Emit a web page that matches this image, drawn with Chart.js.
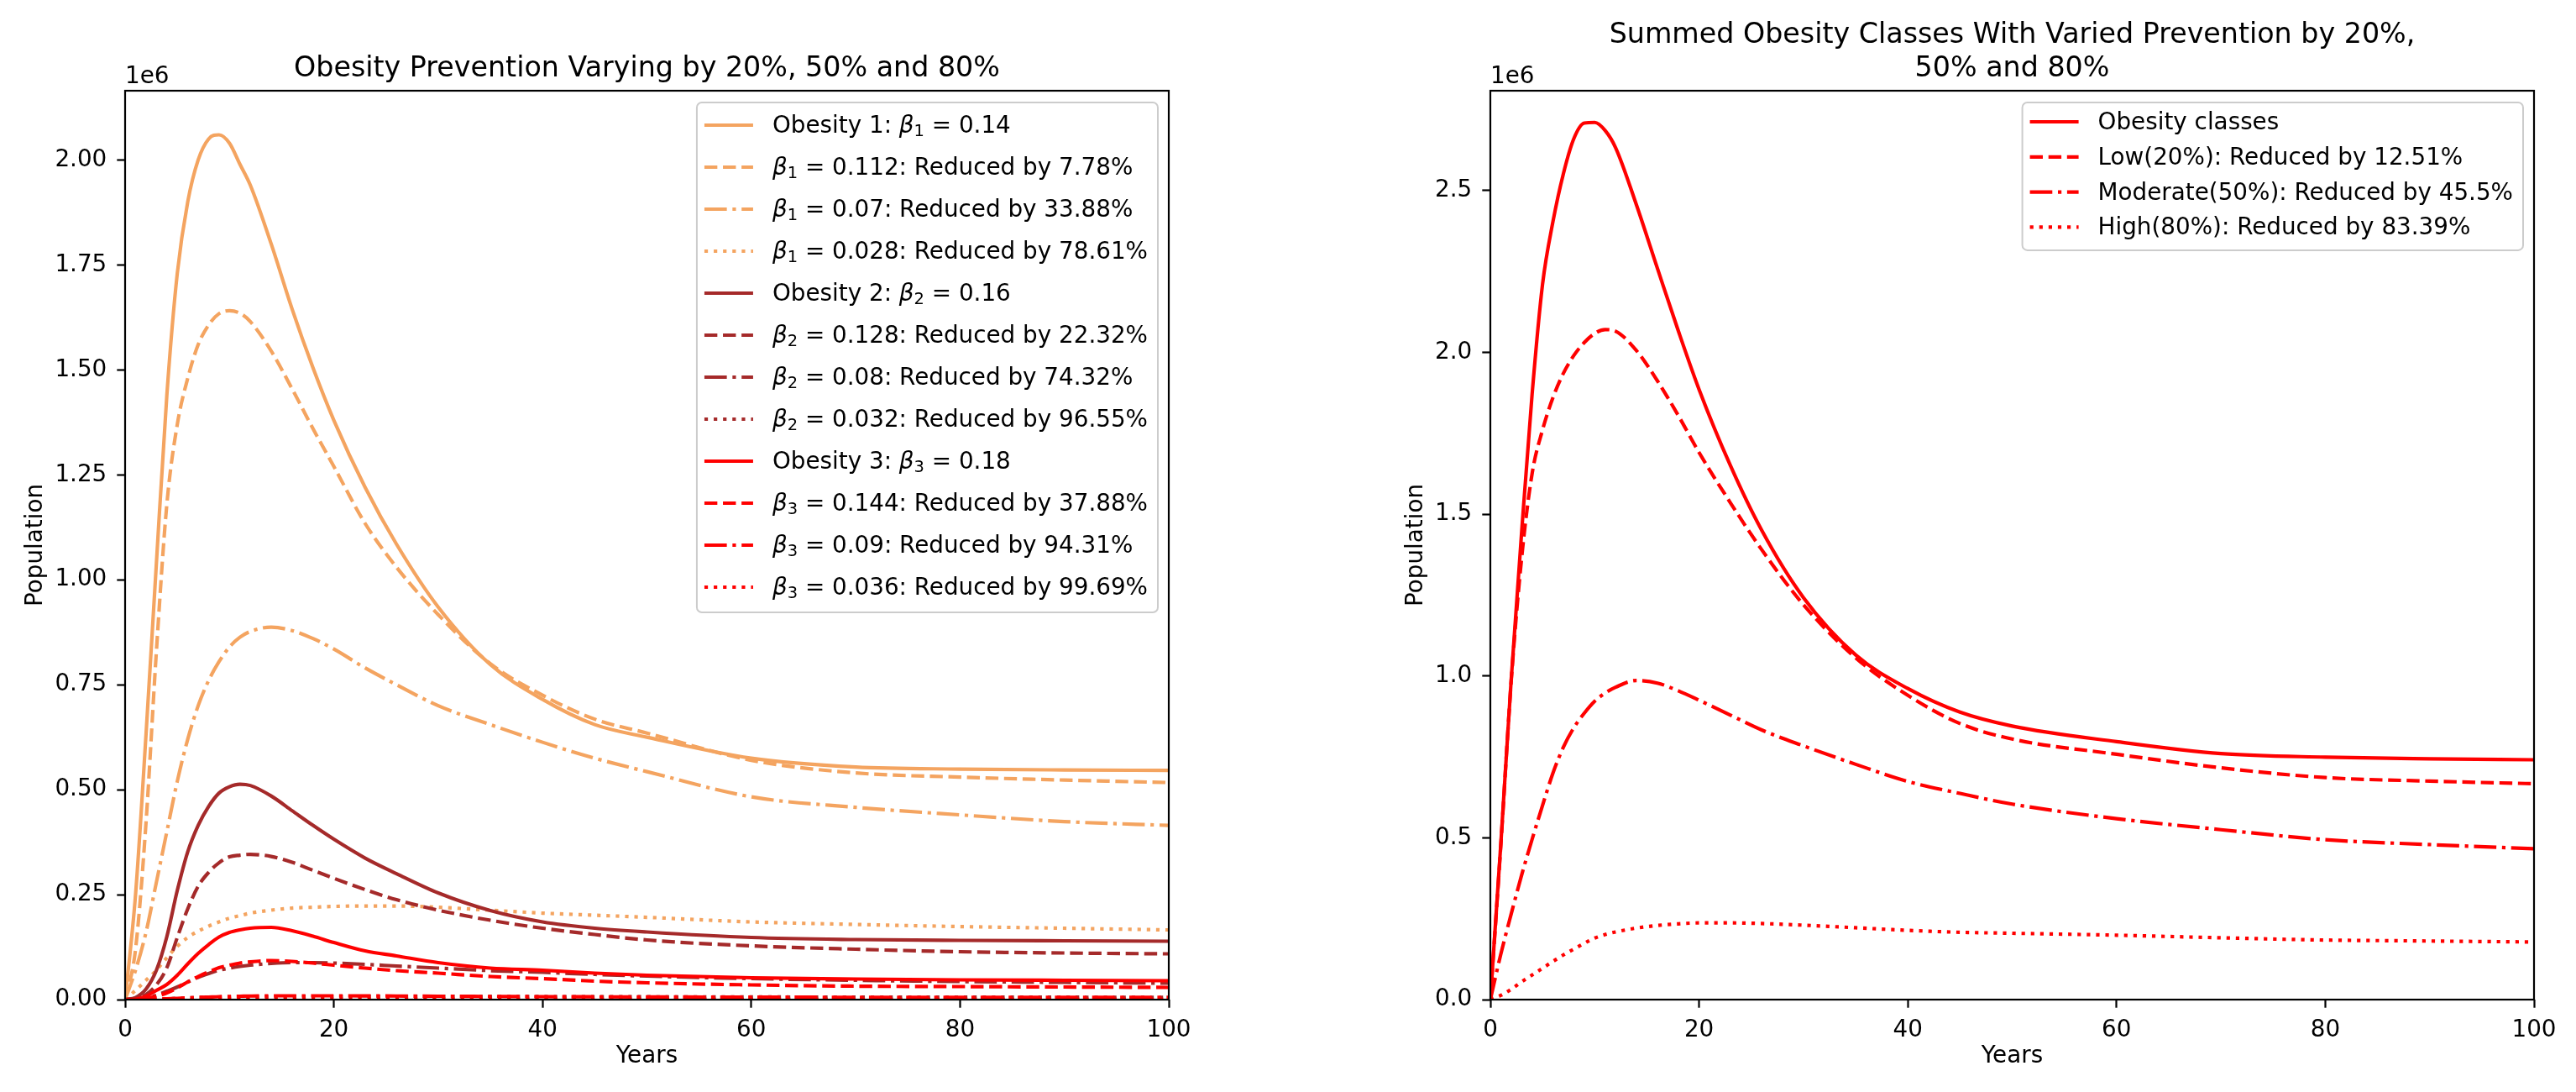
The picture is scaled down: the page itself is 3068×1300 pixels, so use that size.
<!DOCTYPE html>
<html>
<head>
<meta charset="utf-8">
<script src="https://cdn.jsdelivr.net/npm/chart.js@4.4.0/dist/chart.umd.min.js"></script>
<style>
html, body { margin: 0; padding: 0; background: #fff; }
#wrap { display: flex; width: 3068px; height: 1300px; }
canvas { display: block; }
</style>
</head>
<body>
<div id="wrap">
  <canvas id="left" width="1534" height="1300"></canvas>
  <canvas id="right" width="1534" height="1300"></canvas>
</div>
<script>
// years on the x axis
const years = [0, 1, 2, 3, 4, 5, 6, 7, 8, 9, 10, 11, 12, 14, 16, 18, 20, 23, 26, 30, 35, 40, 45, 50, 60, 70, 80, 90, 100];

// population, in units of 1e6
// obesity 1 (beta1 = 0.14, 0.112, 0.07, 0.028)
const ob1     = [0, 0.25, 0.63, 1.04, 1.44, 1.73, 1.90, 2.00, 2.05, 2.06, 2.04, 1.99, 1.94, 1.80, 1.645, 1.505, 1.38, 1.22, 1.085, 0.935, 0.798, 0.715, 0.655, 0.625, 0.575, 0.554, 0.549, 0.547, 0.546];
const ob1Low  = [0, 0.12, 0.42, 0.83, 1.18, 1.37, 1.48, 1.56, 1.607, 1.634, 1.641, 1.635, 1.615, 1.545, 1.455, 1.36, 1.27, 1.134, 1.03, 0.917, 0.80, 0.725, 0.668, 0.635, 0.57, 0.54, 0.53, 0.523, 0.517];
const ob1Mod  = [0, 0.07, 0.16, 0.28, 0.40, 0.52, 0.62, 0.70, 0.76, 0.805, 0.84, 0.863, 0.877, 0.887, 0.879, 0.86, 0.835, 0.79, 0.75, 0.70, 0.655, 0.613, 0.575, 0.543, 0.483, 0.458, 0.44, 0.424, 0.415];
const ob1High = [0, 0.022, 0.046, 0.07, 0.10, 0.127, 0.148, 0.163, 0.175, 0.185, 0.194, 0.20, 0.206, 0.213, 0.218, 0.22, 0.222, 0.223, 0.223, 0.22, 0.213, 0.206, 0.201, 0.196, 0.185, 0.179, 0.174, 0.17, 0.166];
// obesity 2 (beta2 = 0.16, 0.128, 0.08, 0.032)
const ob2     = [0, 0.005, 0.025, 0.07, 0.15, 0.26, 0.352, 0.415, 0.46, 0.492, 0.507, 0.513, 0.51, 0.485, 0.45, 0.415, 0.382, 0.337, 0.30, 0.254, 0.212, 0.185, 0.17, 0.161, 0.148, 0.143, 0.141, 0.14, 0.139];
const ob2Low  = [0, 0.002, 0.012, 0.035, 0.076, 0.148, 0.216, 0.27, 0.303, 0.326, 0.34, 0.344, 0.346, 0.341, 0.327, 0.308, 0.289, 0.262, 0.238, 0.213, 0.189, 0.17, 0.155, 0.142, 0.128, 0.12, 0.114, 0.111, 0.109];
const ob2Mod  = [0, 0, 0.004, 0.01, 0.02, 0.03, 0.042, 0.053, 0.062, 0.07, 0.075, 0.079, 0.082, 0.086, 0.088, 0.088, 0.087, 0.084, 0.08, 0.075, 0.069, 0.065, 0.06, 0.056, 0.05, 0.046, 0.043, 0.041, 0.039];
const ob2High = [0, 0, 0.0005, 0.001, 0.002, 0.003, 0.004, 0.005, 0.0055, 0.006, 0.0065, 0.007, 0.0072, 0.0076, 0.0078, 0.008, 0.008, 0.008, 0.0079, 0.0077, 0.0074, 0.0071, 0.0068, 0.0066, 0.0062, 0.0059, 0.0057, 0.0056, 0.0055];
// obesity 3 (beta3 = 0.18, 0.144, 0.09, 0.036)
const ob3     = [0, 0.001, 0.008, 0.022, 0.036, 0.058, 0.085, 0.11, 0.131, 0.149, 0.16, 0.166, 0.17, 0.172, 0.164, 0.151, 0.136, 0.116, 0.104, 0.088, 0.075, 0.07, 0.063, 0.058, 0.052, 0.049, 0.047, 0.046, 0.045];
const ob3Low  = [0, 0, 0.003, 0.008, 0.016, 0.028, 0.042, 0.055, 0.066, 0.076, 0.082, 0.087, 0.09, 0.093, 0.091, 0.087, 0.082, 0.075, 0.069, 0.063, 0.055, 0.05, 0.044, 0.04, 0.035, 0.032, 0.031, 0.03, 0.029];
const ob3Mod  = [0, 0, 0.0005, 0.001, 0.002, 0.003, 0.004, 0.005, 0.006, 0.007, 0.0075, 0.008, 0.0085, 0.009, 0.009, 0.009, 0.009, 0.0088, 0.0085, 0.008, 0.0075, 0.007, 0.0066, 0.0063, 0.0058, 0.0055, 0.0053, 0.0052, 0.0051];
const ob3High = [0, 0, 0, 0.0001, 0.0002, 0.0003, 0.0004, 0.0005, 0.0006, 0.0007, 0.0008, 0.0008, 0.0009, 0.0009, 0.001, 0.001, 0.001, 0.001, 0.001, 0.001, 0.001, 0.001, 0.001, 0.001, 0.001, 0.0009, 0.0009, 0.0009, 0.0009];

// summed obesity classes
const sumBase = [0, 0.48, 0.99, 1.445, 1.87, 2.21, 2.404, 2.552, 2.66, 2.708, 2.71, 2.685, 2.632, 2.455, 2.26, 2.067, 1.885, 1.65, 1.45, 1.242, 1.065, 0.961, 0.888, 0.845, 0.797, 0.76, 0.749, 0.744, 0.741];
const sumLow  = [0, 0.475, 0.985, 1.365, 1.625, 1.76, 1.86, 1.935, 1.99, 2.03, 2.058, 2.07, 2.065, 2.005, 1.912, 1.805, 1.69, 1.535, 1.39, 1.22, 1.056, 0.94, 0.853, 0.805, 0.758, 0.716, 0.686, 0.675, 0.667];
const sumMod  = [0, 0.14, 0.265, 0.385, 0.495, 0.60, 0.70, 0.78, 0.84, 0.885, 0.922, 0.947, 0.965, 0.986, 0.978, 0.954, 0.925, 0.879, 0.833, 0.784, 0.727, 0.674, 0.637, 0.604, 0.559, 0.525, 0.494, 0.479, 0.466];
const sumHigh = [0, 0.013, 0.032, 0.055, 0.076, 0.097, 0.118, 0.138, 0.156, 0.174, 0.19, 0.201, 0.209, 0.221, 0.229, 0.234, 0.237, 0.237, 0.235, 0.23, 0.222, 0.214, 0.208, 0.205, 0.199, 0.191, 0.184, 0.181, 0.178];

const leftLabels = [
  'Obesity 1: β₁ = 0.14', 'β₁ = 0.112: Reduced by 7.78%', 'β₁ = 0.07: Reduced by 33.88%', 'β₁ = 0.028: Reduced by 78.61%',
  'Obesity 2: β₂ = 0.16', 'β₂ = 0.128: Reduced by 22.32%', 'β₂ = 0.08: Reduced by 74.32%', 'β₂ = 0.032: Reduced by 96.55%',
  'Obesity 3: β₃ = 0.18', 'β₃ = 0.144: Reduced by 37.88%', 'β₃ = 0.09: Reduced by 94.31%', 'β₃ = 0.036: Reduced by 99.69%'
];
const rightLabels = ['Obesity classes', 'Low(20%): Reduced by 12.51%', 'Moderate(50%): Reduced by 45.5%', 'High(80%): Reduced by 83.39%'];

const leftTitle = ['Obesity Prevention Varying by 20%, 50% and 80%'];
const rightTitle = ['Summed Obesity Classes With Varied Prevention by 20%,', '50% and 80%'];

const xTicks = [0, 20, 40, 60, 80, 100];
const yTicksLeft = [0, 0.25, 0.5, 0.75, 1.0, 1.25, 1.5, 1.75, 2.0];
const yTicksRight = [0, 0.5, 1.0, 1.5, 2.0, 2.5];

const FONT = '"DejaVu Sans"';
const FS = 27.8;       // 10pt
const TITLE_FS = 33.3; // 12pt
const LW = 4.17;
const DASH = { solid: [], dashed: [15.4, 6.7], dashdot: [26.7, 6.7, 4.2, 6.7], dotted: [4.2, 6.9] };
const ORANGE = '#f4a460', BROWN = '#a52a2a', RED = '#ff0000';
const STYLES = ['solid', 'dashed', 'dashdot', 'dotted'];

function series(label, ys, color, style, i, n) {
  return {
    label: label,
    data: years.map((x, k) => ({ x: x, y: ys[k] })),
    borderColor: color,
    borderWidth: LW,
    borderDash: DASH[style],
    borderCapStyle: 'butt',
    borderJoinStyle: 'round',
    pointRadius: 0,
    fill: false,
    cubicInterpolationMode: 'monotone',
    order: n - i   // later series on top, like matplotlib
  };
}

// text with an italic beta and small subscript digits
const SUBS = '₁₂₃';
function richRuns(text) {
  const runs = [];
  let cur = '';
  for (const ch of text) {
    if (ch === 'β' || SUBS.includes(ch)) {
      if (cur) runs.push({ t: cur, k: 'n' });
      cur = '';
      if (ch === 'β') runs.push({ t: ch, k: 'i' });
      else runs.push({ t: String(SUBS.indexOf(ch) + 1), k: 's' });
    } else {
      cur += ch;
    }
  }
  if (cur) runs.push({ t: cur, k: 'n' });
  return runs;
}
function runFont(k, size) {
  if (k === 'i') return 'italic ' + size + 'px ' + FONT;
  if (k === 's') return (size * 0.7) + 'px ' + FONT;
  return size + 'px ' + FONT;
}
function richWidth(ctx, text, size) {
  let w = 0;
  for (const r of richRuns(text)) { ctx.font = runFont(r.k, size); w += ctx.measureText(r.t).width; }
  return w;
}
function drawRich(ctx, text, x, y, size) {
  let cx = x;
  for (const r of richRuns(text)) {
    ctx.font = runFont(r.k, size);
    ctx.fillText(r.t, cx, r.k === 's' ? y + size * 0.15 : y);
    cx += ctx.measureText(r.t).width;
  }
}

const decor = {
  id: 'decor',
  afterDraw(chart, args, opts) {
    const ctx = chart.ctx;
    const ca = chart.chartArea;
    ctx.save();

    // spines
    ctx.setLineDash([]);
    ctx.lineWidth = 2.2;
    ctx.strokeStyle = '#000';
    ctx.strokeRect(ca.left, ca.top, ca.right - ca.left, ca.bottom - ca.top);

    // offset text
    ctx.fillStyle = '#000';
    ctx.font = FS + 'px ' + FONT;
    ctx.textAlign = 'left';
    ctx.textBaseline = 'alphabetic';
    ctx.fillText('1e6', ca.left, ca.top - 9);

    // title
    ctx.font = TITLE_FS + 'px ' + FONT;
    ctx.textAlign = 'center';
    const cx = (ca.left + ca.right) / 2;
    const lines = opts.title;
    lines.forEach((t, i) => {
      ctx.fillText(t, cx, ca.top - 16.7 - (lines.length - 1 - i) * 40);
    });

    // legend
    const lg = opts.legend;
    const sets = chart.data.datasets;
    ctx.textAlign = 'left';
    let tw = 0;
    sets.forEach(d => { tw = Math.max(tw, richWidth(ctx, d.label, FS)); });
    const boxW = 90 + tw + 12;
    const boxH = lg.first + lg.row * (sets.length - 1) + lg.last;
    const bx = ca.right - 13 - boxW;
    const by = ca.top + 14;
    ctx.beginPath();
    ctx.roundRect(bx, by, boxW, boxH, 6);
    ctx.fillStyle = 'rgba(255,255,255,0.8)';
    ctx.fill();
    ctx.lineWidth = 2;
    ctx.strokeStyle = '#cccccc';
    ctx.stroke();
    sets.forEach((d, i) => {
      const cy = by + lg.first + i * lg.row;
      ctx.beginPath();
      ctx.setLineDash(d.borderDash);
      ctx.lineCap = 'butt';
      ctx.lineWidth = LW;
      ctx.strokeStyle = d.borderColor;
      ctx.moveTo(bx + 9, cy);
      ctx.lineTo(bx + 67, cy);
      ctx.stroke();
      ctx.setLineDash([]);
      ctx.fillStyle = '#000';
      drawRich(ctx, d.label, bx + 90, cy + 9, FS);
    });
    ctx.restore();
  }
};

function makeChart(id, datasets, yMax, yTicks, yDigits, yWidth, yTitlePad, padRight, title, legendGeom) {
  const font = { family: 'DejaVu Sans', size: FS };
  return new Chart(document.getElementById(id), {
    type: 'line',
    data: { datasets: datasets },
    options: {
      responsive: false,
      animation: false,
      devicePixelRatio: 1,
      layout: { padding: { left: 0, right: padRight, top: 108, bottom: 0 } },
      scales: {
        x: {
          type: 'linear',
          min: 0,
          max: 100,
          afterBuildTicks: s => { s.ticks = xTicks.map(v => ({ value: v })); },
          afterFit: s => { s.height = 110; },
          ticks: { font: font, color: '#000', padding: 10, maxRotation: 0, autoSkip: false, callback: v => String(v) },
          grid: { drawOnChartArea: false, drawTicks: true, tickLength: 9.7, tickWidth: 2.2, tickColor: '#000' },
          border: { display: false },
          title: { display: true, text: 'Years', font: font, color: '#000', padding: { top: 0, bottom: 25.3 } }
        },
        y: {
          type: 'linear',
          min: 0,
          max: yMax,
          afterBuildTicks: s => { s.ticks = yTicks.map(v => ({ value: v })); },
          afterFit: s => { s.width = yWidth; },
          ticks: { font: font, color: '#000', padding: 12, autoSkip: false, callback: v => Number(v).toFixed(yDigits) },
          grid: { drawOnChartArea: false, drawTicks: true, tickLength: 9.7, tickWidth: 2.2, tickColor: '#000' },
          border: { display: false },
          title: { display: true, text: 'Population', font: font, color: '#000', padding: { top: yTitlePad, bottom: 0 } }
        }
      },
      plugins: {
        legend: { display: false },
        tooltip: { enabled: false },
        decor: { title: title, legend: legendGeom }
      }
    },
    plugins: [decor]
  });
}

const leftSets = [];
[[ob1, ob1Low, ob1Mod, ob1High, ORANGE], [ob2, ob2Low, ob2Mod, ob2High, BROWN], [ob3, ob3Low, ob3Mod, ob3High, RED]].forEach((g, gi) => {
  for (let k = 0; k < 4; k++) {
    const i = gi * 4 + k;
    leftSets.push(series(leftLabels[i], g[k], g[4], STYLES[k], i, 12));
  }
});
const rightSets = [sumBase, sumLow, sumMod, sumHigh].map((ys, k) => series(rightLabels[k], ys, RED, STYLES[k], k, 4));

makeChart('left', leftSets, 2.165, yTicksLeft, 2, 149, 25.7, 142, leftTitle, { first: 27, row: 50, last: 30 });
makeChart('right', rightSets, 2.808, yTicksRight, 1, 241, 135.7, 50, rightTitle, { first: 23, row: 41.8, last: 27.5 });
</script>
</body>
</html>
